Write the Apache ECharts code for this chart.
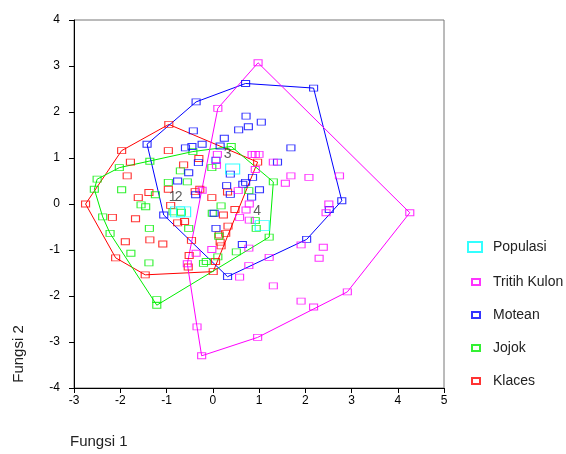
<!DOCTYPE html>
<html>
<head>
<meta charset="utf-8">
<script src="https://cdn.jsdelivr.net/npm/echarts@6/dist/echarts.min.js"></script>
<style>
  html, body { margin: 0; padding: 0; background: #fff; }
  #chart { width: 566px; height: 454px; }
</style>
</head>
<body>
<div id="chart"></div>
<script>
// 各组样本点 (Fungsi 1, Fungsi 2)
const tritihKulon = [
    [0.98, 3.07], [0.11, 2.08], [-0.55, -1.30], [-0.34, -2.67], [-0.24, -3.30], [0.97, -2.90],
    [2.18, -2.24], [2.91, -1.91], [4.26, -0.19], [0.85, 1.08], [0.92, 1.08], [1.00, 1.08],
    [0.10, 1.08], [0.08, 0.84], [0.92, 0.75], [1.31, 0.91], [1.69, 0.61], [2.08, 0.58],
    [1.57, 0.45], [2.74, 0.61], [0.55, 0.29], [-0.23, 0.30], [2.51, 0.00], [2.45, -0.19],
    [0.79, 0.00], [0.72, -0.13], [0.58, -0.29], [0.79, -0.35], [0.78, -0.96], [-0.02, -0.99],
    [1.22, -1.16], [0.78, -1.34], [0.58, -1.59], [1.31, -1.78], [1.91, -2.11], [1.91, -0.89],
    [2.39, -0.94], [2.30, -1.18], [-0.36, -1.07]
];
const motean = [
    [-1.42, 1.30], [-0.36, 2.22], [0.71, 2.62], [2.18, 2.52], [2.79, 0.07], [2.52, -0.12],
    [2.03, -0.77], [0.32, -1.58], [-1.06, -0.24], [-0.42, 1.59], [0.72, 1.91], [1.05, 1.78],
    [0.77, 1.68], [0.56, 1.61], [0.25, 1.43], [-0.23, 1.30], [-0.59, 1.22], [-0.45, 1.25],
    [0.16, 1.26], [1.69, 1.22], [-0.31, 0.90], [0.07, 0.95], [-0.52, 0.68], [-0.76, 0.50],
    [0.38, 0.65], [0.86, 0.58], [0.30, 0.40], [0.65, 0.43], [0.71, 0.47], [1.01, 0.31],
    [0.38, 0.21], [0.84, 0.15], [-0.37, 0.20], [1.40, 0.91], [0.03, -0.20], [0.07, -0.53],
    [0.64, -0.88]
];
const jojok = [
    [0.40, 1.25], [-0.43, 1.14], [-1.36, 0.93], [-2.02, 0.79], [-2.50, 0.54], [-2.56, 0.32],
    [-2.38, -0.28], [-2.22, -0.64], [-1.21, -2.08], [-1.21, -2.20], [1.22, -0.72], [1.31, 0.48],
    [-1.97, 0.31], [-0.70, 0.72], [-0.96, 0.47], [-0.55, 0.48], [-0.02, 0.79], [-1.24, 0.20],
    [-1.55, -0.02], [-1.45, -0.06], [-1.37, -0.53], [-1.77, -1.07], [-1.38, -1.28], [-0.86, -0.17],
    [-0.68, -0.18], [-0.52, -0.53], [-0.01, -0.20], [0.18, -0.04], [-0.20, -1.29], [-0.14, -1.25],
    [0.51, -1.04], [0.11, -1.15], [0.13, -0.70], [0.92, -0.36], [0.94, -0.53], [0.78, 0.29]
];
const klaces = [
    [-0.95, 1.73], [-1.97, 1.16], [-0.96, 1.16], [-1.78, 0.91], [-0.63, 0.85], [-1.85, 0.61],
    [-0.30, 0.99], [-1.38, 0.25], [-0.96, 0.32], [-1.61, 0.14], [-0.38, 0.27], [-0.28, 0.32],
    [-0.02, 0.14], [-2.75, 0.00], [-0.91, -0.03], [-2.17, -0.29], [-1.67, -0.32], [-0.76, -0.41],
    [-0.61, -0.38], [-1.89, -0.82], [-1.36, -0.78], [-1.08, -0.87], [-0.46, -0.79], [-2.10, -1.17],
    [-0.51, -1.12], [-0.53, -1.37], [-1.46, -1.54], [0.01, -1.47], [0.23, -0.24], [0.48, -0.12],
    [0.33, -0.48], [0.28, -0.64], [0.16, -0.83], [0.18, -0.91], [0.97, 0.91], [0.32, 0.26],
    [0.06, -1.25], [0.14, -0.67]
];
// 组中心 (Populasi)
const populasi = [[-0.76, -0.17], [-0.63, -0.17], [0.43, 0.76], [1.07, -0.47]];
const populasiLabels = ['1', '2', '3', '4'];

const xTicks = [-3, 5];
const yTicks = [-4, 4];

const FONT = '"Liberation Sans", Arial, sans-serif';

// 凸包 (monotone chain)
function convexHull(pts) {
    const p = pts.slice().sort((a, b) => a[0] - b[0] || a[1] - b[1]);
    const cross = (o, a, b) => (a[0] - o[0]) * (b[1] - o[1]) - (a[1] - o[1]) * (b[0] - o[0]);
    const lower = [];
    for (const q of p) {
        while (lower.length >= 2 && cross(lower[lower.length - 2], lower[lower.length - 1], q) <= 0) lower.pop();
        lower.push(q);
    }
    const upper = [];
    for (let i = p.length - 1; i >= 0; i--) {
        const q = p[i];
        while (upper.length >= 2 && cross(upper[upper.length - 2], upper[upper.length - 1], q) <= 0) upper.pop();
        upper.push(q);
    }
    lower.pop();
    upper.pop();
    const h = lower.concat(upper);
    h.push(h[0]);
    return h;
}

const groups = [
    { name: 'Klaces', data: klaces, color: '#ff0000' },
    { name: 'Jojok', data: jojok, color: '#00ee00' },
    { name: 'Motean', data: motean, color: '#0000ff' },
    { name: 'Tritih Kulon', data: tritihKulon, color: '#ff00ff' }
];

function initChart() {
    const chart = echarts.init(document.getElementById('chart'));
    const series = [];
    groups.forEach(g => {
        series.push({
            name: g.name + ' hull',
            type: 'line',
            data: convexHull(g.data),
            symbol: 'none',
            silent: true,
            lineStyle: { color: g.color, width: 1 },
            z: 2
        });
        series.push({
            name: g.name,
            type: 'scatter',
            data: g.data,
            symbol: 'rect',
            symbolSize: [8, 6],
            itemStyle: { color: 'rgba(0,0,0,0)', borderColor: g.color, borderWidth: 1 },
            z: 3
        });
    });
    series.push({
        name: 'Populasi',
        type: 'scatter',
        data: populasi,
        symbol: 'rect',
        symbolSize: [14, 10],
        itemStyle: { color: 'rgba(0,0,0,0)', borderColor: '#00ffff', borderWidth: 1 },
        label: {
            show: true,
            position: 'top',
            distance: 2,
            offset: [-5, 0],
            formatter: p => populasiLabels[p.dataIndex],
            fontSize: 14,
            fontFamily: FONT,
            color: '#333'
        },
        z: 4
    });

    const option = {
        backgroundColor: '#fff',
        animation: false,
        grid: {
            left: 74, top: 20, width: 370, height: 368,
            show: true, borderColor: '#777', borderWidth: 1
        },
        xAxis: {
            type: 'value',
            min: xTicks[0], max: xTicks[1], interval: 1,
            splitLine: { show: false },
            axisLine: { onZero: false, lineStyle: { color: '#000', width: 1 } },
            axisTick: { show: true, length: 5, lineStyle: { color: '#000' } },
            axisLabel: { color: '#000', fontSize: 12, fontFamily: FONT, margin: 7 }
        },
        yAxis: {
            type: 'value',
            min: yTicks[0], max: yTicks[1], interval: 1,
            splitLine: { show: false },
            axisLine: { show: true, onZero: false, lineStyle: { color: '#000', width: 1 } },
            axisTick: { show: true, length: 5, lineStyle: { color: '#000' } },
            axisLabel: { color: '#000', fontSize: 12, fontFamily: FONT, margin: 14 }
        },
        legend: [
            {
                data: ['Populasi'],
                orient: 'vertical',
                left: 467, top: 240, padding: 0,
                itemWidth: 14, itemHeight: 10,
                textStyle: { fontSize: 14, lineHeight: 14, fontFamily: FONT, color: '#222', padding: [0, 0, 0, 6] }
            },
            {
                data: ['Tritih Kulon', 'Motean', 'Jojok', 'Klaces'],
                orient: 'vertical',
                left: 471, top: 275, padding: 0,
                itemWidth: 8, itemHeight: 6, itemGap: 19,
                textStyle: { fontSize: 14, lineHeight: 14, fontFamily: FONT, color: '#222', padding: [0, 0, 0, 8] }
            }
        ],
        graphic: [
            {
                type: 'text', left: 70, top: 434,
                style: { text: 'Fungsi 1', fontSize: 15, fontFamily: FONT, fill: '#222' }
            },
            {
                type: 'text', x: 19, y: 354, rotation: Math.PI / 2,
                style: { text: 'Fungsi 2', fontSize: 15, fontFamily: FONT, fill: '#222', textAlign: 'center', textVerticalAlign: 'middle' }
            }
        ],
        series: series
    };
    chart.setOption(option);
}

document.addEventListener('DOMContentLoaded', initChart);
</script>
</body>
</html>
